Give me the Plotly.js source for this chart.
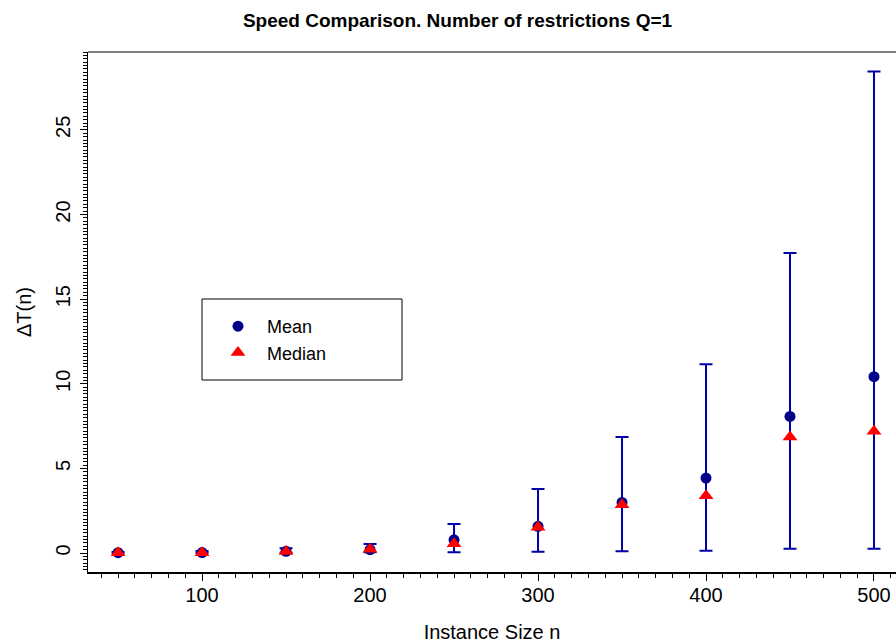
<!DOCTYPE html>
<html>
<head>
<meta charset="utf-8">
<script src="https://cdn.plot.ly/plotly-3.0.1.min.js"></script>
<style>
html,body{margin:0;padding:0;background:#fff;}
#chart{width:896px;height:644px;}
</style>
</head>
<body>
<div id="chart"></div>
<script>
var instanceSize = [50, 100, 150, 200, 250, 300, 350, 400, 450, 500];
var meanDT   = [0.02, 0.03, 0.10, 0.20, 0.78, 1.58, 2.99, 4.43, 8.07, 10.42];
var medianDT = [0.01, 0.02, 0.09, 0.23, 0.55, 1.52, 2.85, 3.38, 6.86, 7.20];
var upperDT  = [0.06, 0.12, 0.28, 0.53, 1.71, 3.78, 6.86, 11.15, 17.72, 28.45];
var lowerDT  = [0.00, 0.00, 0.02, 0.04, 0.04, 0.08, 0.10, 0.14, 0.25, 0.26];

var errPlus = upperDT.map(function(u, i){ return u - meanDT[i]; });
var errMinus = lowerDT.map(function(l, i){ return meanDT[i] - l; });

var FONT = '"Liberation Sans", Arial, Helvetica, sans-serif';

var traces = [
  {
    x: instanceSize, y: meanDT, type: 'scatter', mode: 'markers',
    marker: {color: 'rgba(0,0,0,0)', size: 1},
    error_y: {type: 'data', symmetric: false, array: errPlus, arrayminus: errMinus,
              color: '#0000A8', thickness: 2, width: 6.5},
    showlegend: false, hoverinfo: 'skip'
  },
  {
    x: instanceSize, y: meanDT, type: 'scatter', mode: 'markers', name: 'Mean',
    marker: {color: '#00008B', size: 11, symbol: 'circle'}
  },
  {
    x: instanceSize, y: medianDT, type: 'scatter', mode: 'markers', name: 'Median',
    marker: {color: '#FF0000', size: 13, symbol: 'triangle-up'}
  }
];

var layout = {
  width: 896, height: 644,
  margin: {l: 88, r: 0, t: 52, b: 72},
  paper_bgcolor: '#fff', plot_bgcolor: '#fff',
  font: {family: FONT, color: '#000'},
  title: {text: '<b>Speed Comparison. Number of restrictions Q=1</b>',
          font: {family: FONT, size: 19, color: '#000'},
          xref: 'container', x: 0.5106, xanchor: 'center',
          yref: 'container', y: 1 - 20/644, yanchor: 'middle'},
  xaxis: {
    range: [32.1, 513.1], showgrid: false, zeroline: false,
    showline: true, linecolor: '#000', linewidth: 1.5,
    ticks: 'outside', tick0: 0, dtick: 100, ticklen: 7, tickwidth: 1, tickcolor: '#000',
    minor: {dtick: 10, tick0: 0, ticks: 'outside', ticklen: 4, tickwidth: 1, tickcolor: '#000', showgrid: false},
    tickfont: {family: FONT, size: 20, color: '#000'},
    ticklabelstandoff: -3,
    title: {text: 'Instance Size n', font: {family: FONT, size: 20, color: '#000'}, standoff: 20}
  },
  yaxis: {
    range: [-1.12, 29.6], showgrid: false, zeroline: false,
    showline: true, linecolor: '#000', linewidth: 1.5,
    ticks: 'outside', tick0: 0, dtick: 5, ticklen: 7, tickwidth: 1, tickcolor: '#000',
    minor: {dtick: 0.2, tick0: 0, ticks: 'outside', ticklen: 4, tickwidth: 1, tickcolor: '#000', showgrid: false},
    tickfont: {family: FONT, size: 20, color: '#000'},
    tickangle: -90,
    ticklabelstandoff: 2,
    title: {text: '\u0394T(n)', font: {family: FONT, size: 20, color: '#000'}, standoff: 14}
  },
  legend: {
    x: (209 - 88) / 808, xanchor: 'left',
    y: (572 - 308) / 520, yanchor: 'top',
    bgcolor: 'rgba(0,0,0,0)', borderwidth: 0,
    font: {family: FONT, size: 18, color: '#000'},
    itemwidth: 48
  },
  shapes: [
    {type: 'line', xref: 'paper', yref: 'paper', x0: 0, x1: 1, y0: 1, y1: 1,
     line: {color: '#000', width: 1}},
    {type: 'rect', xref: 'paper', yref: 'paper',
     x0: (202 - 88) / 808, x1: (402 - 88) / 808,
     y0: (572 - 380) / 520, y1: (572 - 299) / 520,
     line: {color: '#000', width: 1}, fillcolor: 'rgba(0,0,0,0)'}
  ]
};

Plotly.newPlot('chart', traces, layout, {displayModeBar: false, staticPlot: true});
</script>
</body>
</html>
